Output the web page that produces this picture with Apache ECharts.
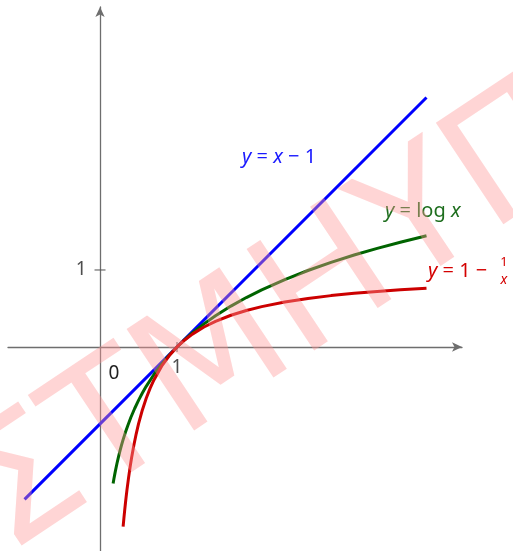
<!DOCTYPE html>
<html><head><meta charset="utf-8">
<script src="https://cdn.jsdelivr.net/npm/echarts@6/dist/echarts.min.js"></script>
<style>html,body{margin:0;padding:0;background:#fff}#c{width:513px;height:551px}</style>
</head><body><div id="c"></div>
<script>
// y = x - 1 (end points)
const lineX = [-0.98, 4.24];
const lineY = [-1.98, 3.24];
// y = log x
const logX = [0.17, 0.18, 0.19, 0.2, 0.22, 0.24, 0.26, 0.28, 0.3, 0.33, 0.36, 0.4, 0.45, 0.5, 0.55, 0.6, 0.7, 0.8, 0.9, 1.0, 1.1, 1.2, 1.35, 1.5, 1.7, 1.9, 2.1, 2.4, 2.7, 3.0, 3.3, 3.6, 3.9, 4.24];
const logY = [-1.772, -1.715, -1.661, -1.609, -1.514, -1.427, -1.347, -1.273, -1.204, -1.109, -1.022, -0.916, -0.799, -0.693, -0.598, -0.511, -0.357, -0.223, -0.105, 0, 0.095, 0.182, 0.300, 0.405, 0.531, 0.642, 0.742, 0.875, 0.993, 1.099, 1.194, 1.281, 1.361, 1.445];
// y = 1 - 1/x
const recX = [0.3, 0.31, 0.32, 0.33, 0.34, 0.35, 0.37, 0.39, 0.41, 0.44, 0.47, 0.5, 0.55, 0.6, 0.65, 0.7, 0.8, 0.9, 1.0, 1.1, 1.2, 1.35, 1.5, 1.7, 1.9, 2.1, 2.4, 2.7, 3.0, 3.3, 3.6, 3.9, 4.24];
const recY = [-2.333, -2.226, -2.125, -2.030, -1.941, -1.857, -1.703, -1.564, -1.439, -1.273, -1.128, -1.0, -0.818, -0.667, -0.538, -0.429, -0.25, -0.111, 0, 0.091, 0.167, 0.259, 0.333, 0.412, 0.474, 0.524, 0.583, 0.630, 0.667, 0.697, 0.722, 0.744, 0.764];
// ticks
const xTicks = [1];
const yTicks = [1];
const xTickLabels = ['1'];
const yTickLabels = ['1'];
const originLabel = '0';
const watermark = 'ΣΤΜΗΥΠ';

const zip = (a, b) => a.map((v, i) => [v, b[i]]);
const chart = echarts.init(document.getElementById('c'), null, {renderer: 'canvas'});
const axisColor = '#6e6e6e';
const font = 'Noto Sans';

const rich = {
  i: {fontStyle: 'italic', fontFamily: font, fontSize: 20},
  n: {fontFamily: font, fontSize: 20}
};
const tickLabel = {fontSize: 19, color: '#222', fontFamily: font};

chart.setOption({
  animation: false,
  backgroundColor: '#fff',
  grid: {left: 8, right: 51, top: 7, bottom: 0, containLabel: false, outerBoundsMode: 'none'},
  xAxis: {
    type: 'value', min: -1.195, max: 4.701,
    axisLine: {onZero: true, lineStyle: {color: axisColor, width: 1.3}, symbol: ['none', 'arrow'], symbolSize: [7, 10]},
    axisTick: {show: false}, splitLine: {show: false}, axisLabel: {show: false}
  },
  yAxis: {
    type: 'value', min: -2.65, max: 4.4156,
    axisLine: {onZero: true, lineStyle: {color: axisColor, width: 1.3}, symbol: ['none', 'arrow'], symbolSize: [7, 10]},
    axisTick: {show: false}, splitLine: {show: false}, axisLabel: {show: false}
  },
  series: [
    {type: 'scatter', data: xTicks.map(v => [v, 0]), symbol: 'rect', symbolSize: [1.3, 10], itemStyle: {color: '#555'}, silent: true, z: 2,
     label: {show: true, position: 'bottom', distance: 6, formatter: p => xTickLabels[p.dataIndex], ...tickLabel}},
    {type: 'scatter', data: yTicks.map(v => [0, v]), symbol: 'rect', symbolSize: [11, 1.3], itemStyle: {color: '#555'}, silent: true, z: 2,
     label: {show: true, position: 'left', distance: 8, formatter: p => yTickLabels[p.dataIndex], ...tickLabel}},
    {type: 'line', data: zip(lineX, lineY), showSymbol: false, lineStyle: {color: '#0000ff', width: 3}, z: 3},
    {type: 'line', data: zip(logX, logY), showSymbol: false, smooth: false, lineStyle: {color: '#006400', width: 3, join: 'round'}, z: 4},
    {type: 'line', data: zip(recX, recY), showSymbol: false, smooth: false, lineStyle: {color: '#cc0000', width: 3, join: 'round'}, z: 5}
  ],
  graphic: [
    {type: 'text', x: 114, y: 374, style: {text: originLabel, font: '19px "Noto Sans"', fill: '#222', align: 'center', verticalAlign: 'middle'}},
    {type: 'text', x: 242, y: 157, style: {text: '{i|y}{n| = }{i|x}{n| − 1}', rich: rich, fill: '#1a1aff', align: 'left', verticalAlign: 'middle'}},
    {type: 'text', x: 385, y: 211, style: {text: '{i|y}{n| = log }{i|x}', rich: rich, fill: '#1e6e1e', align: 'left', verticalAlign: 'middle'}},
    {type: 'text', x: 428, y: 271, style: {text: '{i|y}{n| = 1 −}', rich: rich, fill: '#d40000', align: 'left', verticalAlign: 'middle'}},
    {type: 'text', x: 504, y: 262, style: {text: '1', font: '13px "Noto Sans"', fill: '#d40000', align: 'center', verticalAlign: 'middle'}},
    {type: 'text', x: 504, y: 280, style: {text: 'x', font: 'italic 14px "Noto Sans"', fill: '#d40000', align: 'center', verticalAlign: 'middle'}},
    {type: 'text', x: 277, y: 323, rotation: 33.7 * Math.PI / 180, z: 100, silent: true,
     style: {text: watermark, font: '167px "DejaVu Sans"', fill: 'rgba(255,150,150,0.4)', align: 'center', verticalAlign: 'middle'}}
  ]
});
</script></body></html>
